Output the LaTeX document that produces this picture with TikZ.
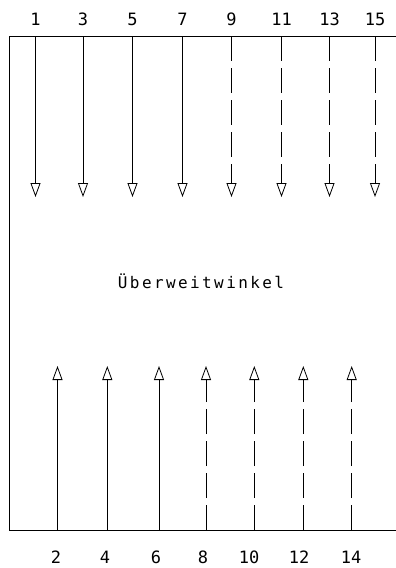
\documentclass[tikz,border=0pt]{standalone}
\usepackage{fontspec}
\setmonofont{DejaVu Sans Mono}
\newfontfamily\numfont{DejaVu Sans Mono}
\newfontfamily\txtfont[LetterSpace=15]{DejaVu Sans Mono}
\usetikzlibrary{arrows.meta}
\begin{document}
\begin{tikzpicture}[x=1pt,y=-1pt,
  frame/.style={line width=0.8pt},
  arr/.style={line width=0.8pt,-{Triangle[open,length=14pt,width=10pt]}},
  dsh/.style={arr,dash pattern=on 25pt off 7pt},
  num/.style={font=\numfont\fontsize{17}{17}\selectfont,inner sep=0pt},
  lbl/.style={font=\txtfont\fontsize{16}{16}\selectfont,inner sep=0pt}]
\useasboundingbox (0,0) rectangle (396,568);
% frame
\coordinate (tl) at (9,36);
\coordinate (tr) at (396,36);
\coordinate (bl) at (9,530);
\coordinate (br) at (396,530);
\draw[frame] (tr) -- (tl) -- (bl) -- (br);
% top arrows
\foreach \n/\x in {1/35.5,3/83,5/132.5,7/182.5,9/231.5,11/281.5,13/329.5,15/375}{
  \coordinate (s\n) at (\x,36);
  \coordinate (e\n) at (\x,197);
  \node[num] (n\n) at (\x,19) {\n};
}
\foreach \n in {1,3,5,7}{\draw[arr] (s\n) -- (e\n);}
\foreach \n in {9,11,13,15}{\draw[dsh] (s\n) -- (e\n);}
% bottom arrows
\foreach \n/\x/\lx in {2/57.5/56,4/107.3/105,6/159/156,8/206/203,10/254.3/249,12/303.3/299,14/351.7/351}{
  \coordinate (s\n) at (\x,530);
  \coordinate (e\n) at (\x,366);
  \node[num] (n\n) at (\lx,557) {\n};
}
\foreach \n in {2,4,6}{\draw[arr] (s\n) -- (e\n);}
\foreach \n in {8,10,12,14}{\draw[dsh] (s\n) -- (e\n);}
\node[lbl,anchor=base] (t) at (201,288) {Überweitwinkel};
\end{tikzpicture}
\end{document}
